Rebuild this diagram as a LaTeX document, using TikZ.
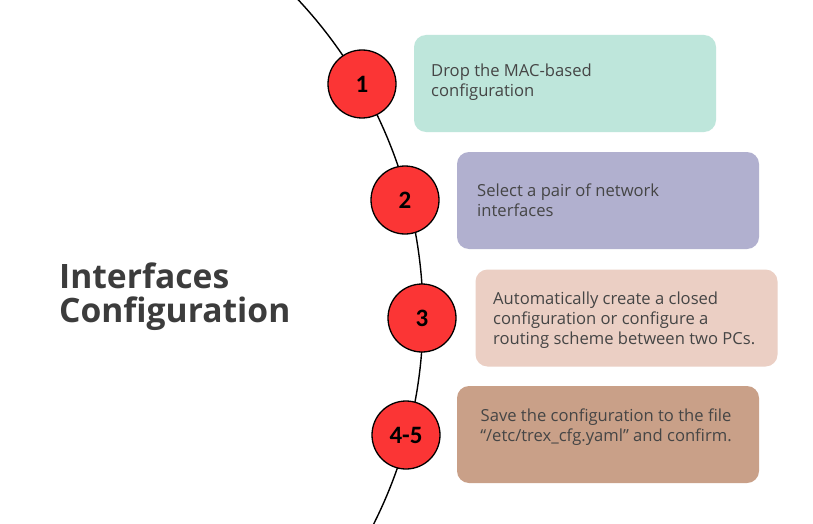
\documentclass[tikz,border=0pt]{standalone}
\usepackage{fontspec}
\setmainfont{Open Sans}
\newfontfamily\numfont{Carlito}
\definecolor{boxA}{HTML}{BEE6DB}
\definecolor{boxB}{HTML}{B1B0CF}
\definecolor{boxC}{HTML}{EBCFC4}
\definecolor{boxD}{HTML}{C9A088}
\definecolor{txt}{HTML}{454545}
\definecolor{title}{HTML}{3C3C3C}
\definecolor{dotred}{HTML}{FB3535}
\tikzset{
  stepnum/.style={circle, draw=black, line width=1.3pt, fill=dotred, minimum size=68pt, inner sep=0pt,
    font=\numfont\bfseries\fontsize{25}{25}\selectfont, text=black},
  infobox/.style={rounded corners=12pt, minimum width=302pt, minimum height=97pt, inner sep=0pt, draw=none},
  infotext/.style={align=left, inner sep=0pt, text=txt, font=\fontsize{16.6}{20}\selectfont},
}
\begin{document}
\begin{tikzpicture}[x=1pt,y=-1pt]
\useasboundingbox (0,0) rectangle (813,524);
\fill[white] (0,0) rectangle (813,524);
\begin{scope}
\clip (0,0) rectangle (813,524);
\draw[line width=1.4pt] (-40,316) ++(-46:463) arc[start angle=-46, end angle=30, radius=463];
\end{scope}
% boxes
\node[infobox, fill=boxA] (b1) at (565,83.5) {};
\node[infobox, fill=boxB] (b2) at (608,200.5) {};
\node[infobox, fill=boxC] (b3) at (626.5,318) {};
\node[infobox, fill=boxD] (b4) at (608,434.5) {};
\node[infotext, anchor=west] (t1) at (431,82) {Drop the MAC-based\\configuration};
\node[infotext, anchor=west] (t2) at (477,200) {Select a pair of network\\interfaces};
\node[infotext, anchor=west] (t3) at (493,320) {Automatically create a closed\\configuration or configure a\\routing scheme between two PCs.};
\node[infotext, align=center] (t4) at (606,427) {Save the configuration to the file\\“/etc/trex\_cfg.yaml” and confirm.};
% circles
\node[stepnum] (c1) at (362,84) {1};
\node[stepnum] (c2) at (405,200) {2};
\node[stepnum] (c3) at (422,318) {3};
\node[stepnum] (c4) at (406,435) {4-5};
% title
\node[anchor=west, align=left, inner sep=0pt, text=title, font=\bfseries\fontsize{33.6}{34}\selectfont] (ttl) at (59,297) {Interfaces\\Configuration};
\end{tikzpicture}
\end{document}
